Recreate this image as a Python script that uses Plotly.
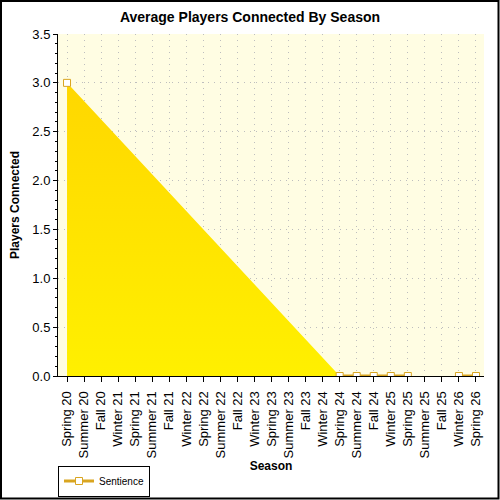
import plotly.graph_objects as go

seasons = ["Spring 20", "Summer 20", "Fall 20", "Winter 21", "Spring 21", "Summer 21",
           "Fall 21", "Winter 22", "Spring 22", "Summer 22", "Fall 22", "Winter 23",
           "Spring 23", "Summer 23", "Fall 23", "Winter 24", "Spring 24", "Summer 24",
           "Fall 24", "Winter 25", "Spring 25", "Summer 25", "Fall 25", "Winter 26",
           "Spring 26"]
sentience = [3.0, None, None, None, None, None, None, None, None, None, None, None,
             None, None, None, None, 0.0, 0.0, 0.0, 0.0, 0.0, None, None, 0.0, 0.0]

gold = "#D9A520"
fnt = "Liberation Sans, Arial, sans-serif"

fig = go.Figure()
# area (connects across missing seasons)
fig.add_trace(go.Scatter(x=seasons, y=sentience, mode="none", fill="tozeroy",
                         connectgaps=True, showlegend=False, hoverinfo="skip",
                         fillgradient=dict(type="vertical", start=0, stop=3,
                                           colorscale=[[0, "#FFF000"], [1, "#FFD700"]])))
# line + markers
fig.add_trace(go.Scatter(x=seasons, y=sentience, mode="lines+markers", name="Sentience",
                         connectgaps=False, line=dict(color=gold, width=3),
                         marker=dict(symbol="square", size=7, color="white",
                                     line=dict(color=gold, width=1))))

pw, ph = 426, 342
ml, mr, mt, mb = 58, 16, 34, 124
grid = dict(showgrid=True, gridcolor="#BEBEBE", griddash="1px,5px", gridwidth=1)

fig.update_layout(
    width=500, height=500,
    margin=dict(l=ml, r=mr, t=mt, b=mb, autoexpand=False),
    paper_bgcolor="white", plot_bgcolor="#FFFDE3",
    font=dict(family=fnt, size=12, color="black"),
    title=dict(text="<b>Average Players Connected By Season</b>", x=0.5, xanchor="center",
               y=1 - 17 / 500, yanchor="middle", font=dict(size=14)),
    showlegend=True,
    legend=dict(orientation="h", x=0, xanchor="left", y=-(481 - 376) / ph, yanchor="middle",
                bordercolor="black", borderwidth=1, bgcolor="white",
                font=dict(size=10), itemwidth=30, tracegroupgap=0),
    xaxis=dict(type="category", range=[-0.53, 24.47], tickangle=-90, automargin=False,
               showline=True, linecolor="black", linewidth=1,
               ticks="outside", ticklen=5, tickcolor="black", ticklabelstandoff=4,
               title=dict(text="<b>Season</b>", font=dict(size=12), standoff=4),
               tickfont=dict(size=13), **grid),
    yaxis=dict(range=[0, 3.5], dtick=0.5, tickformat=".1f", automargin=False,
               showline=True, linecolor="black", linewidth=1,
               ticks="outside", ticklen=4, tickcolor="black",
               minor=dict(dtick=0.1, ticks="outside", ticklen=2, tickcolor="black", showgrid=False),
               zeroline=False,
               title=dict(text="<b>Players Connected</b>", font=dict(size=12), standoff=10),
               tickfont=dict(size=13), **grid),
    xaxis2=dict(overlaying="x", side="top", range=[-0.53, 24.47], tick0=0, dtick=1,
                showticklabels=False, ticks="inside", ticklen=4, tickcolor="black",
                showline=True, linecolor="black", showgrid=False, zeroline=False),
    yaxis2=dict(overlaying="y", side="right", range=[0, 3.5], dtick=0.1,
                showticklabels=False, ticks="inside", ticklen=4, tickcolor="black",
                showline=True, linecolor="black", showgrid=False, zeroline=False),
)

fig.add_shape(type="rect", xref="paper", yref="paper",
              x0=-(ml - 1) / pw, x1=1 + (mr - 1.5) / pw,
              y0=-(mb - 1.5) / ph, y1=1 + (mt - 1) / ph,
              line=dict(color="black", width=2), fillcolor="rgba(0,0,0,0)", layer="above")

# the page body has a default 8px margin; drop it so the figure sits at the corner
fig.write_html("out.html", config={"displayModeBar": False},
               post_script="document.body.style.margin='0';")
